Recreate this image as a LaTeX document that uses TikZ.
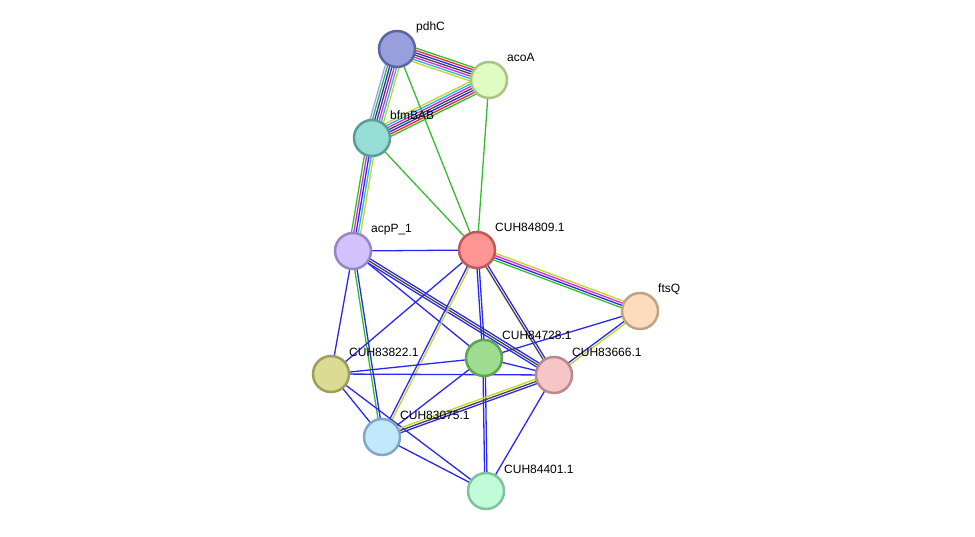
\documentclass[tikz,border=0pt]{standalone}
\usepackage{fontspec}
\setmainfont{Liberation Sans}
\usetikzlibrary{calc,backgrounds}
\definecolor{eg}{RGB}{50,190,40}
\definecolor{eb}{RGB}{40,40,240}
\definecolor{er}{RGB}{240,40,40}
\definecolor{em}{RGB}{220,40,220}
\definecolor{ec}{RGB}{40,180,230}
\definecolor{ey}{RGB}{190,215,40}
\definecolor{ek}{RGB}{70,70,70}
\definecolor{el}{RGB}{160,160,250}
% node fill / border colours
\definecolor{fpdhC}{RGB}{151,160,221}\definecolor{bpdhC}{RGB}{91,101,165}
\definecolor{facoA}{RGB}{225,252,194}\definecolor{bacoA}{RGB}{166,197,133}
\definecolor{fbfm}{RGB}{150,222,214}\definecolor{bbfm}{RGB}{90,158,150}
\definecolor{facp}{RGB}{210,193,252}\definecolor{bacp}{RGB}{152,134,196}
\definecolor{f809}{RGB}{254,149,149}\definecolor{b809}{RGB}{192,88,88}
\definecolor{fftsQ}{RGB}{253,220,190}\definecolor{bftsQ}{RGB}{195,162,131}
\definecolor{f728}{RGB}{158,221,144}\definecolor{b728}{RGB}{94,162,82}
\definecolor{f666}{RGB}{246,197,198}\definecolor{b666}{RGB}{184,138,139}
\definecolor{f822}{RGB}{220,219,147}\definecolor{b822}{RGB}{158,158,88}
\definecolor{f075}{RGB}{194,232,251}\definecolor{b075}{RGB}{127,168,194}
\definecolor{f401}{RGB}{193,252,216}\definecolor{b401}{RGB}{128,194,156}
\tikzset{
	prot/.style={circle, draw=b#1, fill=f#1, line width=2.5pt, minimum size=36pt, inner sep=0pt},
	lbl/.style={anchor=base west, inner sep=0pt, font=\fontsize{12}{14}\selectfont},
	edge/.style={line width=1.3pt}
}
% parallel lines between two nodes, one per colour
\newcommand{\bundle}[3]{%
	\foreach \c [count=\i] in {#3} {\xdef\nlines{\i}}
	\foreach \c [count=\i] in {#3} {
		\pgfmathsetmacro{\off}{(\i-(\nlines+1)/2)*2.3}
		\draw[edge, \c] ($(#1)!\off pt!90:(#2)$) -- ($(#2)!\off pt!-90:(#1)$);
	}%
}
\begin{document}
\begin{tikzpicture}[x=1pt, y=-1pt]
	\useasboundingbox (0,0) rectangle (975,537);
	% proteins
	\node[prot=pdhC] (pdhC) at (397,49) {};
	\node[prot=acoA] (acoA) at (489,80) {};
	\node[prot=bfm] (bfmBAB) at (372,138) {};
	\node[prot=acp] (acpP) at (353,251) {};
	\node[prot=809] (c84809) at (477,250) {};
	\node[prot=ftsQ] (ftsQ) at (640,311) {};
	\node[prot=728] (c84728) at (484,358) {};
	\node[prot=666] (c83666) at (554,375) {};
	\node[prot=822] (c83822) at (331,374) {};
	\node[prot=075] (c83075) at (382,437) {};
	\node[prot=401] (c84401) at (486,491) {};
	% labels
	\node[lbl] (lpdhC) at ([shift={(19,-18)}]pdhC) {pdhC};
	\node[lbl] (lacoA) at ([shift={(18,-18)}]acoA) {acoA};
	\node[lbl] (lbfmBAB) at ([shift={(18,-18)}]bfmBAB) {bfmBAB};
	\node[lbl] (lacpP) at ([shift={(18,-18)}]acpP) {acpP\_1};
	\node[lbl] (l84809) at ([shift={(18,-18)}]c84809) {CUH84809.1};
	\node[lbl] (lftsQ) at ([shift={(18,-18)}]ftsQ) {ftsQ};
	\node[lbl] (l84728) at ([shift={(18,-18)}]c84728) {CUH84728.1};
	\node[lbl] (l83666) at ([shift={(18,-18)}]c83666) {CUH83666.1};
	\node[lbl] (l83822) at ([shift={(18,-18)}]c83822) {CUH83822.1};
	\node[lbl] (l83075) at ([shift={(18,-18)}]c83075) {CUH83075.1};
	\node[lbl] (l84401) at ([shift={(18,-18)}]c84401) {CUH84401.1};
	% interactions
	\begin{pgfonlayer}{background}
		\bundle{pdhC}{acoA}{ey,ec,em,ek,eb,er,eg}
		\bundle{pdhC}{bfmBAB}{el,eg,eb,ek,em,ec,ey}
		\bundle{acoA}{bfmBAB}{ey,ec,em,ek,eb,er,eg}
		\bundle{bfmBAB}{acpP}{eg,em,eb,ec,ey}
		\bundle{pdhC}{c84809}{eg}
		\bundle{acoA}{c84809}{eg}
		\bundle{bfmBAB}{c84809}{eg}
		\bundle{acpP}{c84809}{eb}
		\bundle{acpP}{c83822}{eb}
		\bundle{acpP}{c83075}{eg,eb}
		\bundle{acpP}{c84728}{eb}
		\bundle{acpP}{c83666}{eb,ek,eb}
		\bundle{c84809}{ftsQ}{eg,eb,em,ey}
		\bundle{c84809}{c83822}{eb}
		\bundle{c84809}{c83075}{eb,ey}
		\bundle{c84809}{c84728}{eb,eb}
		\bundle{c84809}{c83666}{ek,eb}
		\bundle{ftsQ}{c84728}{eb}
		\bundle{ftsQ}{c83666}{eb,ey}
		\bundle{c84728}{c83822}{eb}
		\bundle{c84728}{c83666}{eb}
		\bundle{c84728}{c83075}{eb}
		\bundle{c84728}{c84401}{eb,eb}
		\bundle{c83822}{c83666}{eb}
		\bundle{c83822}{c83075}{eb}
		\bundle{c83822}{c84401}{eb}
		\bundle{c83075}{c83666}{eb,ek,ey}
		\bundle{c83075}{c84401}{eb}
		\bundle{c83666}{c84401}{eb}
	\end{pgfonlayer}
\end{tikzpicture}
\end{document}
